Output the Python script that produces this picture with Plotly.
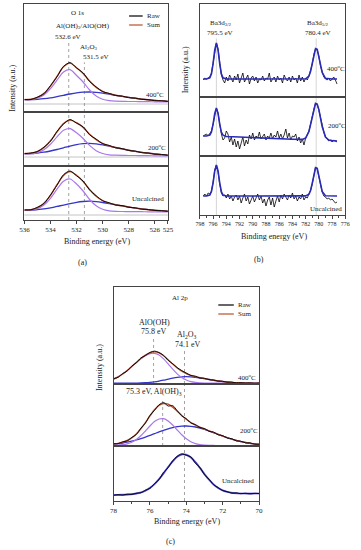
import plotly.graph_objects as go

W, H = 361, 550
FONT = "Liberation Serif"
RAW_C = "#000000"
SUM_C = "#b5502e"
C1_C = "#a878ec"
C2_C = "#3535c8"
FIT_C = "#2a2ab8"
VLINE_C = "#8a8a8a"
GRAY_C = "#c4c4c4"
FRAME_C = "#444444"

# ---------------- Panel (a): O 1s ----------------
A_X = [536.0, 535.5, 535.0, 534.5, 534.0, 533.5, 533.0, 532.5, 532.0, 531.5, 531.0, 530.5,
       530.0, 529.5, 529.0, 528.5, 528.0, 527.5, 527.0, 526.5, 526.0, 525.5, 525.0]
A_TICKS = [536, 534, 532, 530, 528, 526, 525]

A400_C1 = [12.1, 12.4, 13.7, 17.0, 23.3, 31.8, 40.0, 42.3, 36.5, 30.0, 22.0, 16.0, 12.8, 11.3, 10.8, 10.6, 10.5, 10.5, 10.4, 10.3, 10.2, 10.1, 10.0]
A400_C2 = [12.3, 12.3, 12.7, 13.3, 14.2, 15.4, 16.7, 18.0, 19.1, 19.8, 20.0, 19.6, 18.8, 17.8, 16.7, 15.6, 14.6, 13.7, 12.9, 12.2, 11.6, 11.1, 10.7]
A400_SUM = [12.4, 12.8, 14.6, 18.6, 25.9, 35.7, 45.2, 48.9, 44.3, 38.6, 30.9, 24.6, 20.7, 18.3, 16.8, 15.6, 14.6, 13.7, 12.9, 12.2, 11.6, 11.1, 10.7]
A400_RAW = [12.6, 12.5, 14.9, 18.3, 26.4, 35.2, 45.6, 49.4, 44.0, 39.1, 30.5, 25.1, 20.4, 18.6, 16.5, 15.9, 14.3, 13.9, 12.6, 12.4, 11.3, 11.3, 10.5]

A200_C1 = [12.1, 12.3, 13.4, 16.3, 21.8, 29.1, 35.7, 37.4, 33.2, 27.5, 20.6, 15.3, 12.5, 11.2, 10.8, 10.6, 10.5, 10.5, 10.4, 10.3, 10.2, 10.1, 10.0]
A200_C2 = [12.4, 12.4, 13.0, 13.8, 15.0, 16.5, 18.2, 19.9, 21.4, 22.3, 22.6, 22.1, 21.1, 19.8, 18.4, 17.1, 15.8, 14.6, 13.6, 12.8, 12.0, 11.4, 10.9]
A200_SUM = [12.5, 12.8, 14.6, 18.4, 25.2, 34.1, 42.4, 45.9, 43.3, 38.6, 31.7, 26.4, 22.7, 20.2, 18.5, 17.1, 15.8, 14.6, 13.6, 12.8, 12.0, 11.4, 10.9]
A200_RAW = [12.3, 13.0, 14.4, 18.9, 24.8, 34.6, 42.0, 46.5, 42.8, 39.2, 31.2, 26.9, 22.3, 20.6, 18.2, 17.4, 15.5, 14.9, 13.3, 13.0, 11.8, 11.6, 10.7]

AUN_C1 = [9.6, 9.9, 11.4, 15.0, 21.7, 30.9, 38.8, 41.0, 36.0, 29.0, 20.5, 14.2, 10.7, 9.1, 8.6, 8.5, 8.4, 8.3, 8.3, 8.2, 8.1, 8.1, 8.0]
AUN_C2 = [9.8, 9.8, 10.4, 11.1, 12.1, 13.6, 14.9, 16.4, 17.7, 18.5, 18.8, 18.4, 17.5, 16.4, 15.2, 14.1, 13.0, 11.9, 11.1, 10.3, 9.7, 9.2, 8.8]
AUN_SUM = [9.9, 10.3, 12.4, 16.8, 24.6, 35.3, 44.6, 48.4, 44.7, 38.6, 30.5, 23.8, 19.5, 16.9, 15.3, 14.1, 13.0, 11.9, 11.1, 10.3, 9.7, 9.2, 8.8]
AUN_RAW = [10.1, 10.2, 12.7, 16.5, 25.1, 34.8, 45.3, 49.0, 44.2, 39.0, 30.1, 24.3, 19.2, 17.2, 15.0, 14.4, 12.7, 12.2, 10.8, 10.5, 9.5, 9.4, 8.6]

A_REF_LEVEL = [8, 9, 5]          # grey reference line per sub-plot
A_PEAKS = [532.6, 531.4]

# ---------------- Panel (b): Ba 3d ----------------
B_X = [797.5, 797.25, 797.0, 796.75, 796.5, 796.25, 796.0, 795.75, 795.5, 795.25, 795.0, 794.75,
       794.5, 794.25, 794.0, 793.75, 793.5, 793.25, 793.0, 792.75, 792.5, 792.25, 792.0, 791.75,
       791.5, 791.25, 791.0, 790.75, 790.5, 790.25, 790.0, 789.75, 789.5, 789.25, 789.0, 788.75,
       788.5, 788.25, 788.0, 787.75, 787.5, 787.25, 787.0, 786.75, 786.5, 786.25, 786.0, 785.75,
       785.5, 785.25, 785.0, 784.75, 784.5, 784.25, 784.0, 783.75, 783.5, 783.25, 783.0, 782.75,
       782.5, 782.25, 782.0, 781.75, 781.5, 781.25, 781.0, 780.75, 780.5, 780.25, 780.0, 779.75,
       779.5, 779.25, 779.0, 778.75, 778.5, 778.25, 778.0, 777.75, 777.5, 777.25]
B_TICKS = [798, 796, 794, 792, 790, 788, 786, 784, 782, 780, 778, 776]
B_MINOR = [797, 795, 793, 791, 789, 787, 785, 783, 781, 779, 777]

B400_RAW = [17, 19, 18, 19, 20, 24, 33, 46, 54, 48,
            34, 22, 17, 14, 20, 16, 22, 19, 15, 21,
            17, 23, 14, 19, 24, 15, 18, 22, 13, 19,
            21, 16, 20, 14, 18, 17, 21, 16, 19, 18,
            24, 15, 18, 20, 15, 21, 17, 19, 14, 22,
            18, 16, 20, 15, 21, 17, 19, 14, 22, 16,
            20, 15, 19, 17, 21, 26, 33, 43, 48, 47,
            41, 31, 25, 20, 18, 17, 19, 16, 18, 20,
            17, 13]
B200_RAW = [20, 21, 22, 20, 22, 25, 32, 42, 48, 43,
            31, 22, 16, 18, 25, 22, 14, 19, 11, 17,
            9, 15, 7, 13, 19, 10, 16, 12, 21, 17,
            23, 16, 20, 18, 24, 17, 19, 22, 16, 20,
            18, 23, 17, 21, 19, 25, 18, 22, 17, 21,
            27, 18, 23, 16, 20, 19, 22, 15, 19, 13,
            17, 11, 18, 21, 25, 32, 41, 47, 53, 51,
            46, 38, 30, 24, 19, 17, 15, 16, 14, 16,
            15, 14]
BUN_RAW = [19, 21, 19, 22, 21, 24, 33, 45, 50, 43,
           31, 22, 19, 20, 17, 21, 16, 19, 14, 18,
           20, 15, 19, 12, 17, 21, 14, 18, 11, 16,
           19, 13, 17, 21, 15, 19, 12, 16, 9, 15,
           18, 10, 17, 8, 14, 19, 13, 20, 16, 21,
           18, 15, 20, 17, 22, 16, 19, 14, 18, 16,
           21, 15, 18, 17, 21, 25, 31, 41, 48, 46,
           38, 30, 23, 19, 18, 16, 17, 15, 16, 14,
           12, 13]

B_FIT_X = [797.5, 797.0, 796.5, 796.25, 796.0, 795.75, 795.5, 795.25, 795.0, 794.75, 794.5, 794.0,
           792.0, 790.0, 788.0, 786.0, 784.0, 782.5, 782.0, 781.5, 781.25, 781.0, 780.75, 780.5,
           780.25, 780.0, 779.75, 779.5, 779.0, 778.5, 778.0, 777.25]
B400_FIT = [18, 18, 19.2, 23.3, 33.3, 47.1, 54, 47.1, 33.3, 23.3, 19.2, 18, 18, 18, 18, 18, 18, 18,
            18.2, 21.0, 25.7, 33.5, 42.5, 48.4, 47.7, 40.8, 31.7, 24.5, 18.7, 18, 18, 18]
B200_FIT = [20, 20, 20.9, 24.1, 31.9, 42.6, 48, 42.5, 31.8, 24.0, 20.8, 19.5, 19, 18.3, 17.7, 17.2,
            16.7, 16.6, 17.9, 24.5, 31.4, 39.9, 47.9, 52.6, 52.0, 46.4, 37.9, 29.5, 19.0, 16.0, 15.4, 15]
BUN_FIT = [19, 19, 20.0, 23.5, 32.2, 44.0, 50, 44.0, 32.2, 23.5, 20.0, 19, 19, 19, 19, 19, 19, 19,
           19.1, 20.8, 24.5, 31.7, 40.9, 47.3, 46.6, 39.1, 30.0, 23.5, 19.3, 19, 19, 19]
B_PEAKS = [795.5, 780.4]

# ---------------- Panel (c): Al 2p ----------------
C_X = [78.0, 77.75, 77.5, 77.25, 77.0, 76.75, 76.5, 76.25, 76.0, 75.75, 75.5, 75.25, 75.0,
       74.75, 74.5, 74.25, 74.0, 73.75, 73.5, 73.25, 73.0, 72.75, 72.5, 72.25, 72.0, 71.75,
       71.5, 71.25, 71.0, 70.75, 70.5, 70.25, 70.0]
C_TICKS = [78, 76, 74, 72, 70]
C_MINOR = [77, 75, 73, 71]

C400_C1 = [4.9, 7.1, 10.0, 13.5, 17.4, 21.5, 25.3, 28.4, 30.3, 30.7, 29.0, 25.1, 20.1, 14.8, 10.1, 6.5,
           4.0, 2.4, 1.6, 1.1, 0.9, 0.85, 0.8, 0.8, 0.8, 0.8, 0.8, 0.8, 0.8, 0.8, 0.8, 0.8, 0.8]
C400_C2 = [0.8, 0.8, 0.8, 0.82, 0.85, 0.92, 1.04, 1.26, 1.62, 2.17, 2.91, 3.85, 4.89, 5.90, 6.73, 7.22,
           7.28, 7.06, 6.62, 6.00, 5.28, 4.51, 3.75, 3.07, 2.47, 1.99, 1.61, 1.33, 1.14, 1.0, 0.92, 0.87, 0.84]
C400_SUM = [4.9, 7.1, 10.0, 13.5, 17.45, 21.6, 25.5, 28.9, 31.1, 32.1, 31.1, 28.2, 24.2, 19.9, 16.0, 12.9,
            10.5, 8.7, 7.4, 6.3, 5.4, 4.6, 3.75, 3.07, 2.47, 1.99, 1.61, 1.33, 1.14, 1.0, 0.92, 0.87, 0.84]
C400_RAW = [5.3, 6.8, 10.4, 13.1, 17.9, 21.2, 26.0, 28.5, 31.6, 32.9, 31.5, 28.6, 23.7, 20.3, 16.4, 13.4,
            10.9, 8.5, 7.8, 6.0, 5.7, 4.4, 3.9, 2.8, 2.7, 1.8, 1.8, 1.2, 1.3, 0.9, 1.1, 0.7, 0.9]

C200_C1 = [0.6, 0.8, 1.3, 2.2, 3.8, 6.5, 10.3, 15.0, 20.0, 24.4, 27.0, 27.3, 25.1, 21.0, 16.0, 11.2,
           7.2, 4.3, 2.4, 1.4, 0.9, 0.65, 0.55, 0.5, 0.5, 0.5, 0.5, 0.5, 0.5, 0.5, 0.5, 0.5, 0.5]
C200_C2 = [1.8, 2.3, 3.0, 3.8, 4.8, 6.0, 7.4, 8.9, 10.6, 12.3, 14.1, 15.7, 17.2, 18.4, 19.3, 19.9,
           20.0, 19.7, 19.0, 18.0, 16.6, 15.0, 13.4, 11.6, 9.9, 8.3, 6.8, 5.5, 4.4, 3.5, 2.7, 2.1, 1.6]
C200_SUM = [1.9, 2.6, 3.8, 5.5, 8.1, 12.0, 17.2, 23.4, 30.1, 36.2, 40.6, 42.5, 41.8, 38.9, 34.8, 30.6,
            26.7, 23.5, 20.9, 18.9, 17.0, 15.15, 13.45, 11.6, 9.9, 8.3, 6.8, 5.5, 4.4, 3.5, 2.7, 2.1, 1.6]
C200_RAW = [2.3, 2.4, 4.2, 5.1, 8.6, 11.5, 17.8, 22.9, 30.6, 35.6, 41.2, 43.4, 40.0, 40.4, 35.3, 30.1,
            27.3, 23.0, 21.5, 18.4, 17.5, 14.7, 13.9, 11.2, 10.4, 8.0, 7.3, 5.2, 4.8, 3.2, 3.1, 1.9, 1.8]

CUN_FIT = [6.0, 6.1, 6.2, 6.4, 6.8, 7.4, 8.5, 10.3, 13.1, 16.9, 21.9, 27.7, 34.0, 39.7, 44.2, 46.5,
           46.3, 43.6, 38.9, 33.1, 26.9, 21.3, 16.6, 13.1, 10.7, 9.1, 8.2, 7.8, 7.5, 7.5, 7.4, 7.5, 7.5]
CUN_RAW = [5.6, 6.4, 5.9, 6.9, 6.5, 7.9, 8.2, 10.9, 12.6, 17.5, 21.3, 28.9, 33.2, 40.3, 44.8, 47.2,
           45.6, 44.2, 37.6, 33.6, 26.2, 21.9, 16.2, 13.5, 10.3, 9.4, 7.9, 8.1, 7.3, 7.8, 7.2, 7.7, 7.4]


def fx(px):
    return px / W


def fy(py):
    return 1 - py / H


# sub-plot geometry in pixels: (left, right, top, bottom, xrange, yrange)
GEOM = {
    1: (20, 168, 4, 112, [536, 525], [0, 108]),
    2: (20, 168, 112, 166, [536, 525], [0, 54]),
    3: (20, 168, 166, 220, [536, 525], [0, 54]),
    4: (201, 351, 4, 97, [798, 776], [0, 93]),
    5: (201, 351, 97, 156, [798, 776], [0, 59]),
    6: (201, 351, 156, 215, [798, 776], [0, 59]),
    7: (112, 262, 287, 384, [78, 70], [0, 97]),
    8: (112, 262, 384, 446, [78, 70], [0, 62]),
    9: (112, 262, 446, 501, [78, 70], [0, 55]),
}
BOTTOM = {3: (A_TICKS, [], 7), 6: (B_TICKS, B_MINOR, 6), 9: (C_TICKS, C_MINOR, 7)}

fig = go.Figure()
layout = dict(width=W, height=H, margin=dict(l=0, r=0, t=0, b=0),
              paper_bgcolor="white", plot_bgcolor="white", showlegend=False,
              font=dict(family=FONT, size=7, color="#222"))


def sfx(k):
    return "" if k == 1 else str(k)


for k, (l, r, t, b, xr, yr) in GEOM.items():
    xa = dict(domain=[fx(l), fx(r)], range=xr, anchor="y" + sfx(k), showline=True, mirror=True,
              linecolor=FRAME_C, linewidth=1, showgrid=False, zeroline=False,
              showticklabels=False, ticks="")
    if k in BOTTOM:
        tv, mv, fs = BOTTOM[k]
        xa.update(showticklabels=True, ticks="outside", ticklen=3, tickwidth=1, tickcolor=FRAME_C,
                  tickvals=tv, ticktext=[str(v) for v in tv], tickangle=0,
                  tickfont=dict(family=FONT, size=fs, color="#222"))
        if mv:
            xa["minor"] = dict(tickvals=mv, ticks="outside", ticklen=2, tickcolor=FRAME_C)
    ya = dict(domain=[fy(b), fy(t)], range=yr, anchor="x" + sfx(k), showline=True, mirror=True,
              linecolor=FRAME_C, linewidth=1, showgrid=False, zeroline=False,
              showticklabels=False, ticks="")
    layout["xaxis" + sfx(k)] = xa
    layout["yaxis" + sfx(k)] = ya


def add(k, x, y, color, width, shape="spline"):
    fig.add_trace(go.Scatter(x=x, y=y, xaxis="x" + sfx(k), yaxis="y" + sfx(k), mode="lines",
                             line=dict(color=color, width=width, shape=shape, smoothing=0.8),
                             hoverinfo="skip"))


shapes = []


def vline(k, xv, top=1.0, color=VLINE_C, dash="dot", width=0.8):
    shapes.append(dict(type="line", xref="x" + sfx(k), yref="y" + sfx(k) + " domain",
                       x0=xv, x1=xv, y0=0, y1=top, line=dict(color=color, width=width, dash=dash),
                       layer="below"))


def hline(k, yv, color=GRAY_C):
    shapes.append(dict(type="line", xref="x" + sfx(k) + " domain", yref="y" + sfx(k),
                       x0=0, x1=1, y0=yv, y1=yv, line=dict(color=color, width=1), layer="below"))


# Panel (a)
a_sets = [(1, A400_C1, A400_C2, A400_SUM, A400_RAW),
          (2, A200_C1, A200_C2, A200_SUM, A200_RAW),
          (3, AUN_C1, AUN_C2, AUN_SUM, AUN_RAW)]
for (k, c1, c2, s, rw), lvl in zip(a_sets, A_REF_LEVEL):
    hline(k, lvl)
    add(k, A_X, c2, C2_C, 1.3)
    add(k, A_X, c1, C1_C, 1.2)
    add(k, A_X, s, SUM_C, 1.4)
    add(k, A_X, rw, RAW_C, 0.9)
vline(1, A_PEAKS[0], top=0.667)
vline(1, A_PEAKS[1], top=0.46)
for k in (2, 3):
    for p in A_PEAKS:
        vline(k, p)

# Panel (b)
for k, rw, ft in [(4, B400_RAW, B400_FIT), (5, B200_RAW, B200_FIT), (6, BUN_RAW, BUN_FIT)]:
    add(k, B_X, rw, RAW_C, 0.8, "linear")
    add(k, B_FIT_X, ft, FIT_C, 1.6, "linear")
for p in B_PEAKS:
    vline(4, p, top=0.63, color="#cccccc", dash="solid", width=0.8)
    vline(5, p, color="#cccccc", dash="solid", width=0.8)
    vline(6, p, color="#cccccc", dash="solid", width=0.8)

# Panel (c)
for k, c1, c2, s, rw in [(7, C400_C1, C400_C2, C400_SUM, C400_RAW),
                         (8, C200_C1, C200_C2, C200_SUM, C200_RAW)]:
    add(k, C_X, c2, C2_C, 1.3)
    add(k, C_X, c1, C1_C, 1.2)
    add(k, C_X, s, SUM_C, 1.4)
    add(k, C_X, rw, RAW_C, 0.9)
add(9, C_X, CUN_FIT, "#8f86e0", 2.0)
add(9, C_X, CUN_FIT, FIT_C, 1.2)
add(9, C_X, CUN_RAW, RAW_C, 0.8)
vline(7, 75.8, top=0.49)
vline(7, 74.1, top=0.36)
vline(8, 75.3, top=0.77)
vline(8, 74.1)
vline(9, 74.1)

# legends drawn as short lines in paper space
for (x0, x1, yy, col) in [(128, 142, 16, RAW_C), (128, 142, 25, SUM_C),
                          (220, 236, 305, RAW_C), (220, 236, 314, SUM_C)]:
    shapes.append(dict(type="line", xref="paper", yref="paper", x0=fx(x0), x1=fx(x1),
                       y0=fy(yy), y1=fy(yy), line=dict(color=col, width=1.2)))

ann = []


def txt(px, py, s, size=7, anchor="center", angle=0):
    ann.append(dict(x=fx(px), y=fy(py), xref="paper", yref="paper", text=s, showarrow=False,
                    xanchor=anchor, yanchor="middle", textangle=angle,
                    font=dict(family=FONT, size=size, color="#222")))


# (a) texts
txt(75, 13, "O 1s")
txt(80, 26, "Al(OH)<sub>3</sub>/AlO(OH)")
txt(65, 37, "532.6 eV")
txt(87, 47, "Al<sub>2</sub>O<sub>3</sub>")
txt(94, 57, "531.5 eV")
txt(144, 16, "Raw", anchor="left")
txt(144, 25, "Sum", anchor="left")
txt(155, 94, "400<sup>o</sup>C")
txt(157, 148, "200<sup>o</sup>C")
txt(148, 199, "Uncalcined")
txt(7, 88, "Intensity (a.u.)", size=8, angle=-90)
txt(95, 241, "Binding energy (eV)", size=8)
txt(80, 262, "(a)", size=8)

# (b) texts
txt(223, 23, "Ba3d<sub>3/2</sub>")
txt(222, 33, "795.5 eV")
txt(323, 23, "Ba3d<sub>5/2</sub>")
txt(323, 33, "780.4 eV")
txt(341, 68, "400<sup>o</sup>C")
txt(342, 125, "200<sup>o</sup>C")
txt(331, 209, "Uncalcined")
txt(187, 70, "Intensity (a.u.)", size=8, angle=-90)
txt(277, 236, "Binding energy (eV)", size=8)
txt(262, 260, "(b)", size=8)

# (c) texts
txt(180, 298, "Al 2p")
txt(238, 305, "Raw", anchor="left")
txt(238, 314, "Sum", anchor="left")
txt(154, 322, "AlO(OH)", size=8)
txt(154, 331, "75.8 eV", size=8)
txt(188, 335, "Al<sub>2</sub>O<sub>3</sub>", size=8)
txt(189, 344, "74.1 eV", size=8)
txt(250, 377, "400<sup>o</sup>C")
txt(154, 392, "75.3 eV, Al(OH)<sub>3</sub>", size=8)
txt(252, 430, "200<sup>o</sup>C")
txt(240, 481, "Uncalcined")
txt(97, 368, "Intensity (a.u.)", size=8, angle=-90)
txt(188, 521, "Binding energy (eV)", size=8)
txt(171, 541, "(c)", size=8)

layout["shapes"] = shapes
layout["annotations"] = ann
fig.update_layout(**layout)
fig.write_html("out.html", config={"displayModeBar": False, "staticPlot": True},
               post_script="document.body.style.margin='0px';document.body.style.padding='0px';")
